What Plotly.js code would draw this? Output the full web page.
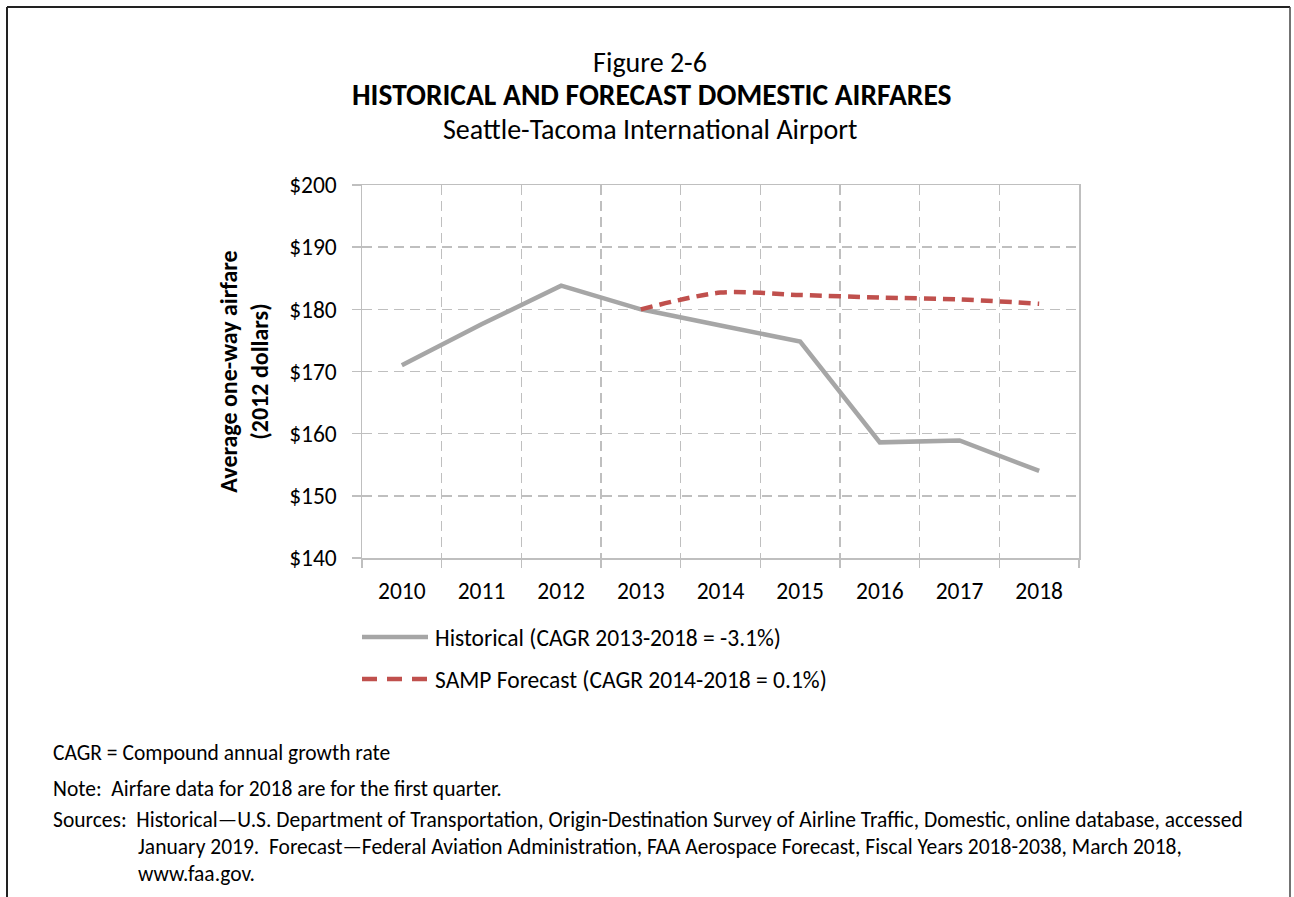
<!DOCTYPE html>
<html>
<head>
<meta charset="utf-8">
<script src="https://cdn.plot.ly/plotly-3.0.1.min.js"></script>
<style>
  html, body { margin: 0; padding: 0; background: #fff; }
  #chart { width: 1294px; height: 897px; }
</style>
</head>
<body>
<div id="chart"></div>
<script>
// ---- Data ----
const years = ["2010", "2011", "2012", "2013", "2014", "2015", "2016", "2017", "2018"];
const historical = [171.0, 177.6, 183.8, 180.0, 177.4, 174.8, 158.6, 158.9, 154.0];
const forecastYears = ["2013", "2014", "2015", "2016", "2017", "2018"];
const forecast = [180.0, 182.7, 182.3, 181.9, 181.6, 180.9];

const historicalName = "Historical (CAGR 2013-2018 = -3.1%)";
const forecastName = "SAMP Forecast (CAGR 2014-2018 = 0.1%)";
const titleLine1 = "Figure 2-6";
const titleLine2 = "HISTORICAL AND FORECAST DOMESTIC AIRFARES";
const titleLine3 = "Seattle-Tacoma International Airport";
const yTitle = "<b>Average one-way airfare<br>(2012 dollars)</b>";
const notes = [
  "CAGR = Compound annual growth rate",
  "Note:\u00a0 Airfare data for 2018 are for the first quarter.",
  "Sources:\u00a0 Historical\u2014U.S. Department of Transportation, Origin-Destination Survey of Airline Traffic, Domestic, online database, accessed",
  "January 2019.\u00a0 Forecast\u2014Federal Aviation Administration, FAA Aerospace Forecast, Fiscal Years 2018-2038, March 2018,",
  "www.faa.gov."
];

// ---- Layout geometry (pixels -> paper) ----
const W = 1294, H = 897;
const L = 362, R = 1079, T = 185, B = 558;
const px = x => (x - L) / (R - L);
const py = y => (B - y) / (B - T);

const FONT = "Carlito, Calibri, Lato, sans-serif";
const GRID = "#BFBFBF";
const GRAY = "#A6A6A6";
const RED = "#C0504D";

const traces = [
  {
    type: "scatter", mode: "lines", name: historicalName,
    x: years, y: historical,
    line: { color: GRAY, width: 4.5 },
    showlegend: false, hoverinfo: "x+y"
  },
  {
    type: "scatter", mode: "lines", name: forecastName,
    x: forecastYears, y: forecast,
    line: { color: RED, width: 4.5, dash: "12px,7px", shape: "spline", smoothing: 0.8 },
    showlegend: false, hoverinfo: "x+y"
  }
];

const NOTE_SIZE = 21.5;
const annotations = [
  { text: "<b>" + titleLine2 + "</b>", x: px(651), y: py(95), font: { size: 29.5 } },
  { text: titleLine3, x: px(650), y: py(130), font: { size: 28 } },
  // legend text
  { text: historicalName, x: px(433), y: py(638), xanchor: "left", font: { size: 23.5 } },
  { text: forecastName, x: px(433), y: py(680), xanchor: "left", font: { size: 23.5 } },
  // footnotes
  { text: notes[0], x: px(51), y: py(753), xanchor: "left", font: { size: NOTE_SIZE } },
  { text: notes[1], x: px(51), y: py(789), xanchor: "left", font: { size: NOTE_SIZE } },
  { text: notes[2], x: px(51), y: py(820), xanchor: "left", font: { size: NOTE_SIZE } },
  { text: notes[3], x: px(136), y: py(847), xanchor: "left", font: { size: NOTE_SIZE } },
  { text: notes[4], x: px(136), y: py(874), xanchor: "left", font: { size: NOTE_SIZE } }
].map(a => Object.assign({ xref: "paper", yref: "paper", showarrow: false, xanchor: "center", yanchor: "middle" }, a));

const shapes = [
  // legend symbols
  { type: "line", xref: "paper", yref: "paper", x0: px(362), x1: px(428), y0: py(637), y1: py(637),
    line: { color: GRAY, width: 4.5 } },
  { type: "line", xref: "paper", yref: "paper", x0: px(362), x1: px(428), y0: py(679), y1: py(679),
    line: { color: RED, width: 4.5, dash: "15px,10px" } },
  // outer frame
  { type: "line", xref: "paper", yref: "paper", x0: px(7), x1: px(7), y0: py(7), y1: py(897),
    line: { color: "#222", width: 2 } },
  { type: "line", xref: "paper", yref: "paper", x0: px(7), x1: px(1290), y0: py(7), y1: py(7),
    line: { color: "#222", width: 2 } },
  { type: "line", xref: "paper", yref: "paper", x0: px(1290), x1: px(1290), y0: py(7), y1: py(897),
    line: { color: "#444", width: 1.5 } }
];

const layout = {
  width: W, height: H,
  margin: { l: L, r: W - R, t: T, b: H - B, pad: 0 },
  paper_bgcolor: "#fff", plot_bgcolor: "#fff",
  font: { family: FONT, color: "#000", size: 23.5 },
  showlegend: false,
  title: {
    text: titleLine1, font: { size: 28 },
    xref: "container", yref: "container",
    x: 650 / W, y: 1 - 62 / H, xanchor: "center", yanchor: "middle"
  },
  xaxis: {
    type: "category",
    categoryorder: "array", categoryarray: years,
    range: [-0.5, 8.5],
    tickson: "boundaries",
    ticks: "outside", ticklen: 8, tickwidth: 1.5, tickcolor: GRID,
    ticklabelstandoff: 11,
    showline: true, linecolor: GRID, linewidth: 1.5, mirror: true,
    showgrid: true, gridcolor: GRID, gridwidth: 1.5, griddash: "10px,6px",
    tickfont: { size: 23.5 },
    fixedrange: true
  },
  yaxis: {
    range: [140, 200], dtick: 10, tick0: 140,
    tickprefix: "$",
    ticks: "outside", ticklen: 9, tickwidth: 1.5, tickcolor: GRID,
    ticklabelstandoff: 10,
    showline: true, linecolor: GRID, linewidth: 1.5, mirror: true,
    showgrid: true, gridcolor: GRID, gridwidth: 1.5, griddash: "10px,6px",
    zeroline: false,
    tickfont: { size: 23.5 },
    title: { text: yTitle, font: { size: 24 }, standoff: 13 },
    fixedrange: true
  },
  annotations: annotations,
  shapes: shapes
};

Plotly.newPlot("chart", traces, layout, { displayModeBar: false, staticPlot: true });
</script>
</body>
</html>
